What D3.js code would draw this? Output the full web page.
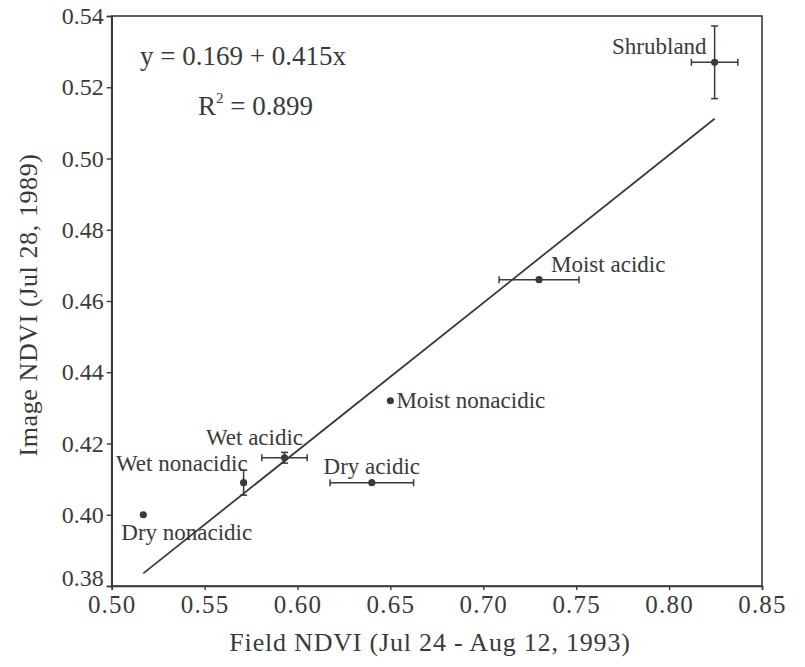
<!DOCTYPE html>
<html>
<head>
<meta charset="utf-8">
<script src="https://cdn.jsdelivr.net/npm/d3@7/dist/d3.min.js"></script>
<style>
  html, body { margin: 0; padding: 0; background: #fff; }
  svg { display: block; }
  text { font-family: "Liberation Serif", "Times New Roman", serif; fill: #3a3a3a; }
</style>
</head>
<body>
<svg id="chart" width="805" height="667"></svg>
<script>
// ---- data ----
const categories = ["Dry nonacidic", "Wet nonacidic", "Wet acidic", "Dry acidic", "Moist nonacidic", "Moist acidic", "Shrubland"];
const fieldNDVI  = [0.517, 0.571, 0.593, 0.640, 0.650, 0.730, 0.8245];
const imageNDVI  = [0.400, 0.409, 0.416, 0.409, 0.432, 0.466, 0.527];
const fieldErr   = [0, 0, 0.0122, 0.0225, 0, 0.0215, 0.0125];
const imageErr   = [0, 0.0035, 0.0015, 0, 0, 0, 0.0102];
const xTicks = [0.50, 0.55, 0.60, 0.65, 0.70, 0.75, 0.80, 0.85];
const yTicks = [0.38, 0.40, 0.42, 0.44, 0.46, 0.48, 0.50, 0.52, 0.54];
const intercept = 0.169, slope = 0.415;
const fitRange = [0.517, 0.8245];
const equationText = "y = 0.169 + 0.415x";
const r2Value = "0.899";
const xTitle = "Field NDVI (Jul 24 - Aug 12, 1993)";
const yTitle = "Image NDVI (Jul 28, 1989)";

// ---- label placement (styling) ----
const labelStyle = {
  "Dry nonacidic":   {dx: -22, dy: 25, anchor: "start"},
  "Wet nonacidic":   {dx: 4,   dy: -12, anchor: "end"},
  "Wet acidic":      {dx: -30, dy: -13, anchor: "middle"},
  "Dry acidic":      {dx: 0,   dy: -9, anchor: "middle"},
  "Moist nonacidic": {dx: 6,   dy: 7, anchor: "start"},
  "Moist acidic":    {dx: 12,  dy: -8, anchor: "start"},
  "Shrubland":       {dx: -8,  dy: -8, anchor: "end"}
};

const ink = "#3a3a3a";
const svg = d3.select("#chart");
const x = d3.scaleLinear().domain([0.5, 0.85]).range([111.7, 762]);
const y = d3.scaleLinear().domain([0.38, 0.54]).range([586, 16]);

// frame
svg.append("rect")
  .attr("x", x(0.5)).attr("y", y(0.54))
  .attr("width", x(0.85) - x(0.5)).attr("height", y(0.38) - y(0.54))
  .attr("fill", "none").attr("stroke", ink).attr("stroke-width", 1.6);

// axes
const gx = svg.append("g").attr("transform", `translate(0,${y(0.38)})`)
  .call(d3.axisBottom(x).tickValues(xTicks).tickFormat(d3.format(".2f")).tickSize(4).tickPadding(5));
const gy = svg.append("g").attr("transform", `translate(${x(0.5)},0)`)
  .call(d3.axisLeft(y).tickValues(yTicks).tickFormat(d3.format(".2f")).tickSize(5).tickPadding(3));
[gx, gy].forEach(g => {
  g.select(".domain").attr("stroke", ink).attr("stroke-width", 1.6);
  g.selectAll(".tick line").attr("stroke", ink).attr("stroke-width", 1.4);
  g.selectAll(".tick text").attr("fill", ink).attr("font-family", "Liberation Serif");
});
gx.selectAll(".tick text").attr("font-size", 25).attr("letter-spacing", 1.2);
gy.selectAll(".tick text").attr("font-size", 24);
// lowest y label sits slightly above its tick, clear of the x labels
gy.selectAll(".tick text").filter(d => d === 0.38).attr("dy", "-0.02em");

// axis titles
svg.append("text").attr("x", 430).attr("y", 651).attr("text-anchor", "middle")
  .attr("font-size", 26).attr("letter-spacing", 0.8).text(xTitle);
svg.append("text").attr("transform", `translate(37,305) rotate(-90)`).attr("text-anchor", "middle")
  .attr("font-size", 26).attr("letter-spacing", 0.6).text(yTitle);

// regression line
svg.append("line")
  .attr("x1", x(fitRange[0])).attr("y1", y(intercept + slope * fitRange[0]))
  .attr("x2", x(fitRange[1])).attr("y2", y(intercept + slope * fitRange[1]))
  .attr("stroke", ink).attr("stroke-width", 1.8);

// equation
svg.append("text").attr("x", 140).attr("y", 65).attr("font-size", 27).text(equationText);
const r2 = svg.append("text").attr("x", 198).attr("y", 115).attr("font-size", 27);
r2.append("tspan").text("R");
r2.append("tspan").attr("font-size", 15).attr("dy", -12).text("2");
r2.append("tspan").attr("dy", 12).text(" = " + r2Value);

// error bars & points
const cap = 3.5;
const pts = categories.map((c, i) => ({c, fx: fieldNDVI[i], iy: imageNDVI[i], ex: fieldErr[i], ey: imageErr[i]}));
const gp = svg.append("g");
pts.forEach(p => {
  const cx = x(p.fx), cy = y(p.iy);
  if (p.ex > 0) {
    const x1 = x(p.fx - p.ex), x2 = x(p.fx + p.ex);
    gp.append("line").attr("x1", x1).attr("x2", x2).attr("y1", cy).attr("y2", cy).attr("stroke", ink).attr("stroke-width", 1.5);
    [x1, x2].forEach(xx => gp.append("line").attr("x1", xx).attr("x2", xx).attr("y1", cy - cap).attr("y2", cy + cap).attr("stroke", ink).attr("stroke-width", 1.5));
  }
  if (p.ey > 0) {
    const y1 = y(p.iy + p.ey), y2 = y(p.iy - p.ey);
    gp.append("line").attr("x1", cx).attr("x2", cx).attr("y1", y1).attr("y2", y2).attr("stroke", ink).attr("stroke-width", 1.5);
    [y1, y2].forEach(yy => gp.append("line").attr("x1", cx - cap).attr("x2", cx + cap).attr("y1", yy).attr("y2", yy).attr("stroke", ink).attr("stroke-width", 1.5));
  }
  gp.append("circle").attr("cx", cx).attr("cy", cy).attr("r", 3.6).attr("fill", ink);
  const s = labelStyle[p.c];
  gp.append("text").attr("x", cx + s.dx).attr("y", cy + s.dy).attr("text-anchor", s.anchor)
    .attr("font-size", 23).text(p.c);
});
</script>
</body>
</html>
